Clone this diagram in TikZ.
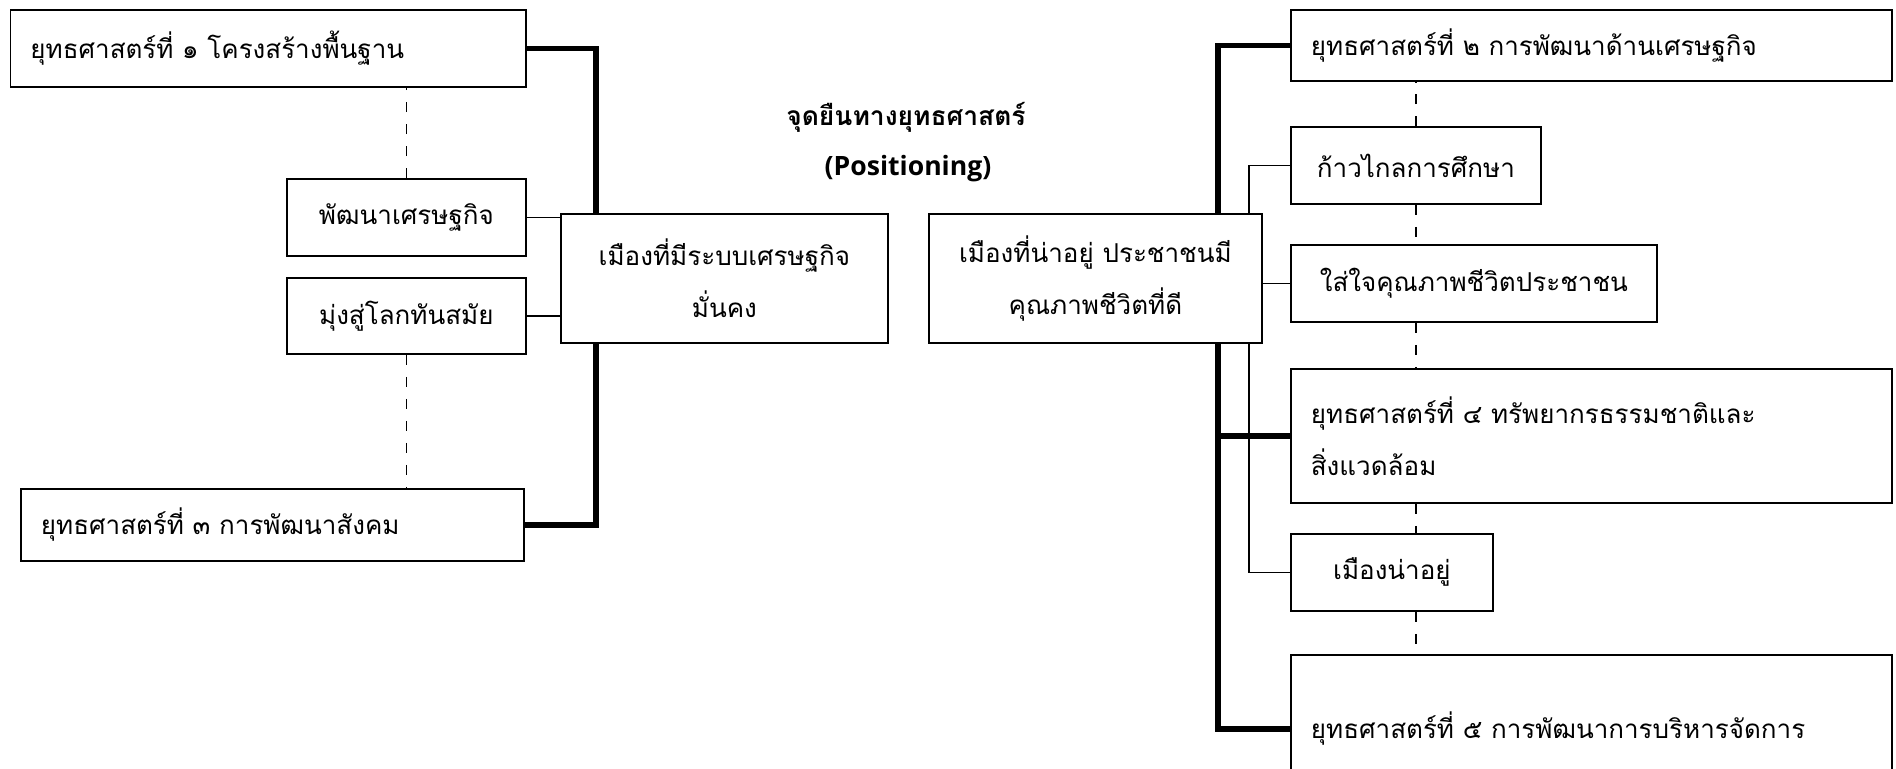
\documentclass[tikz,border=0pt]{standalone}
\usepackage{fontspec}
\newfontfamily\thai[Script=Thai]{Loma}
\newfontfamily\lat{Open Sans}
\usetikzlibrary{backgrounds}
\tikzset{
  box/.style={draw, line width=0.9pt, fill=white, anchor=north west, inner sep=0pt,
              font=\thai\fontsize{13}{26}\selectfont},
  cbox/.style={box, align=center},
  lbox/.style={box, align=left, inner xsep=10pt, text width=#1},
  spine/.style={line width=2.6pt},
  link/.style={line width=0.9pt},
  dash line/.style={line width=0.9pt, dash pattern=on 5pt off 6pt},
  title/.style={font=\thai\bfseries\fontsize{13.2}{15}\selectfont},
  subtitle/.style={font=\lat\bfseries\fontsize{13.3}{15}\selectfont},
}
\begin{document}
\begin{tikzpicture}[x=0.5pt,y=-0.5pt]
\useasboundingbox (0,0) rectangle (1896,768);
\clip (0,0) rectangle (1896,768);
% left side
\node[lbox=237.75pt, minimum height=38.5pt] (S1) at (9.5,9) {ยุทธศาสตร์ที่ ๑ โครงสร้างพื้นฐาน};
\node[cbox, minimum width=119.5pt, minimum height=38.5pt] (B1) at (286,178) {พัฒนาเศรษฐกิจ};
\node[cbox, minimum width=119.5pt, minimum height=38pt] (B2) at (286,277) {มุ่งสู่โลกทันสมัย};
\node[lbox=231.5pt, minimum height=36pt] (S3) at (20,488) {ยุทธศาสตร์ที่ ๓ การพัฒนาสังคม};
\node[cbox, minimum width=163.5pt, minimum height=64.5pt] (C1) at (560,213) {เมืองที่มีระบบเศรษฐกิจ\\มั่นคง};
% title
\node[title] (T) at (906,117) {จุดยืนทางยุทธศาสตร์};
\node[subtitle] (P) at (908,169) {(Positioning)};
% right side
\node[cbox, minimum width=166.5pt, minimum height=64.5pt] (C2) at (928,213) {เมืองที่น่าอยู่ ประชาชนมี\\คุณภาพชีวิตที่ดี};
\node[lbox=280.5pt, minimum height=35.5pt] (S2) at (1290,9) {ยุทธศาสตร์ที่ ๒ การพัฒนาด้านเศรษฐกิจ};
\node[cbox, minimum width=125pt, minimum height=38.5pt] (E1) at (1290,126) {ก้าวไกลการศึกษา};
\node[cbox, minimum width=183pt, minimum height=38.5pt] (E2) at (1290,244) {ใส่ใจคุณภาพชีวิตประชาชน};
\node[lbox=280.5pt, minimum height=67pt] (S4) at (1290,368) {ยุทธศาสตร์ที่ ๔ ทรัพยากรธรรมชาติและ\\สิ่งแวดล้อม};
\node[cbox, minimum width=101pt, minimum height=38.5pt] (E4) at (1290,533) {เมืองน่าอยู่};
\node[lbox=280.5pt, minimum height=74pt] (S5) at (1290,654) {ยุทธศาสตร์ที่ ๕ การพัฒนาการบริหารจัดการ};
% spine positions
\coordinate (L) at (596,0);
\coordinate (R) at (1218,0);
\coordinate (r) at (1249,0);
\begin{pgfonlayer}{background}
  \draw[spine, line cap=round] (S1.east) -- (S1.east -| L) -- (S3.east -| L) -- (S3.east);
  \draw[link] (B1.east) -- (B1.east -| C1.west);
  \draw[link] (B2.east) -- (B2.east -| C1.west);
  \draw[dash line] (B1.north) -- (B1.north |- S1.south);
  \draw[dash line] (B2.south) -- (B2.south |- S3.north);
  \draw[spine] (S2.west) -- (S2.west -| R) -- (S5.west -| R) -- (S5.west);
  \draw[spine] (S4.west -| R) -- (S4.west);
  \draw[link] (E1.west) -- (E1.west -| r) -- (E4.west -| r) -- (E4.west);
  \draw[link] (C2.east |- E2.west) -- (E2.west);
  \draw[dash line] (E1.north) -- (E1.north |- S2.south);
  \draw[dash line] (E1.south) -- (E1.south |- E2.north);
  \draw[dash line] (E1.south |- E2.south) -- (E1.south |- S4.north);
  \draw[dash line] (E1.south |- S4.south) -- (E1.south |- E4.north);
  \draw[dash line] (E1.south |- E4.south) -- (E1.south |- S5.north);
\end{pgfonlayer}
\end{tikzpicture}
\end{document}
